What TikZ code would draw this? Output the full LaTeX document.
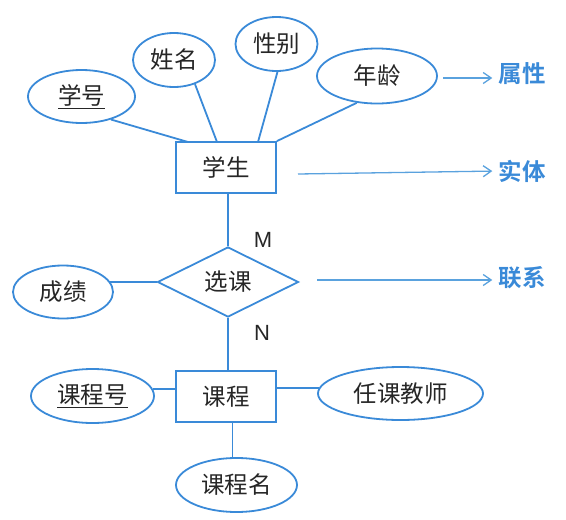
\documentclass[tikz,border=0pt]{standalone}
\usepackage{fontspec}
\setmainfont{Noto Sans CJK SC}[BoldFont={Noto Sans CJK SC Bold}]
\newfontfamily\latinfont{Liberation Sans}
\usetikzlibrary{shapes.geometric,arrows.meta}
\definecolor{erblue}{HTML}{3A8AD8}
\definecolor{arrblue}{HTML}{5AA2DE}
\definecolor{txt}{HTML}{262626}
\begin{document}
\begin{tikzpicture}[x=1pt,y=-1pt,
  cjkfont/.style={font=\fontsize{23.5}{26}\selectfont},
  attr/.style={ellipse,draw=erblue,line width=1.8pt,inner sep=0pt,cjkfont,text=txt},
  ent/.style={rectangle,draw=erblue,line width=1.8pt,minimum width=100pt,minimum height=51pt,inner sep=0pt,cjkfont,text=txt},
  rel/.style={diamond,draw=erblue,line width=1.8pt,minimum width=141pt,minimum height=70pt,inner sep=0pt,cjkfont,text=txt},
  link/.style={draw=erblue,line width=1.8pt},
  card/.style={font=\latinfont\fontsize{22}{24}\selectfont,text=txt,inner sep=0pt},
  legend/.style={font=\fontsize{23.5}{26}\selectfont\bfseries,text=erblue,inner sep=0pt},
  arr/.style={draw=arrblue,line width=1.3pt,-{Straight Barb[length=8pt,width=11pt]},shorten >=6pt}
]
\useasboundingbox (0,0) rectangle (566,520);

% entities
\node[ent] (xs) at (226,167.5) {学生};
\node[ent] (kc) at (226,396.5) {课程};
\node[rel] (xk) at (228,282) {选课};

% attributes
\node[attr,minimum width=107pt,minimum height=53pt] (xh) at (81.5,96.5) {\underline{学号}};
\node[attr,minimum width=82pt,minimum height=54pt] (xm) at (174,60) {姓名};
\node[attr,minimum width=82pt,minimum height=54pt] (xb) at (276.5,44) {性别};
\node[attr,minimum width=120pt,minimum height=55pt] (nl) at (377,76) {年龄};
\node[attr,minimum width=100pt,minimum height=53pt] (cj) at (63,292) {成绩};
\node[attr,minimum width=123pt,minimum height=54pt] (kh) at (92.5,396) {\underline{课程号}};
\node[attr,minimum width=165pt,minimum height=53pt] (rj) at (400.5,393.5) {任课教师};
\node[attr,minimum width=121pt,minimum height=54pt] (km) at (236.5,485) {课程名};

% cardinalities
\node[card] (m) at (263,240) {M};
\node[card] (n) at (262,333) {N};

% legend labels
\node[legend] (sx) at (522,74) {属性};
\node[legend] (st) at (522,171) {实体};
\node[legend] (lx) at (522,278) {联系};

% connection points
\coordinate (c1) at (188,142);
\coordinate (c2) at (217,142);
\coordinate (c3) at (258,142);

\draw[link] (xh.322) -- (c1);
\draw[link] (xm.311) -- (c2);
\draw[link] (xb.272) -- (c3);
\draw[link] (nl.233) -- (xs.north east);
\draw[link] (xk.north) -- (xk.north |- xs.south);
\draw[link] (xk.south) -- (xk.south |- kc.north);
\draw[link] (xk.west) -- (xk.west -| cj.12);
\draw[link] (kh.7) -- (kh.7 -| kc.west);
\draw[link] (rj.176) -- (rj.176 -| kc.east);
\draw[link] ([xshift=6.5pt]kc.south) -- ([xshift=6.5pt]kc.south |- km.north);

% legend arrows
\coordinate (a0) at (443,78);
\coordinate (a1) at (298,174);
\coordinate (a2) at (317,280);
\draw[arr] (a0) -- (a0 -| sx.west);
\draw[arr] (a1) -- (st.west);
\draw[arr] (a2) -- (a2 -| lx.west);
\end{tikzpicture}
\end{document}
